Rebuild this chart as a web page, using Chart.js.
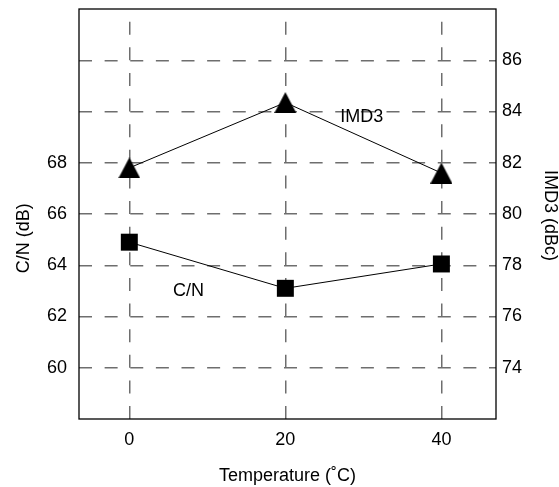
<!DOCTYPE html>
<html><head><meta charset="utf-8">
<script src="https://cdn.jsdelivr.net/npm/chart.js@4.4.1/dist/chart.umd.min.js"></script>
<style>html,body{margin:0;padding:0;background:#fff}#wrap{width:559px;height:487px}</style>
</head><body><div id="wrap"><canvas id="c" width="559" height="487"></canvas></div>
<script>
// ---- data ----
const temperatures = [0, 20, 40];
const cnValues = [64.9, 63.1, 64.05];        // C/N (dB), left axis
const imd3Values = [81.8, 84.35, 81.6];      // IMD3 (dBc), right axis
const xTicks = [0, 20, 40];
const gridTicks = [60, 62, 64, 66, 68, 70, 72];
const cnTickLabels = [60, 62, 64, 66, 68];
const imd3Ticks = [74, 76, 78, 80, 82, 84, 86];

const FONT = 'Liberation Sans, Arial, Helvetica, sans-serif';
const FS = 18;
const CN_MIN = 58, CN_TOP = 74;      // frame spans 58..74 dB
const CN_MAX_VISIBLE = 73.883;       // chart area starts a few px below the frame top
const OFFSET = 14;                   // IMD3 axis = C/N axis + 14

function triangleImage(w, h) {
  const c = document.createElement('canvas');
  c.width = w; c.height = h;
  const g = c.getContext('2d');
  g.fillStyle = '#000';
  g.beginPath();
  g.moveTo(w / 2, 0); g.lineTo(w, h); g.lineTo(0, h); g.closePath();
  g.fill();
  return c;
}

const framePlugin = {
  id: 'frame',
  beforeDatasetsDraw(chart) {
    const {ctx, chartArea: a, scales} = chart;
    const top = scales.y.getPixelForValue(CN_TOP);
    ctx.save();
    ctx.strokeStyle = '#000';
    ctx.lineWidth = 1.3;
    ctx.strokeRect(a.left, top, a.right - a.left, a.bottom - top);
    ctx.restore();
  },
  afterDraw(chart) {
    const {ctx, scales} = chart;
    ctx.save();
    ctx.font = FS + 'px ' + FONT;
    ctx.fillStyle = '#000';
    ctx.textAlign = 'center';
    ctx.textBaseline = 'middle';
    ctx.translate(24, scales.y.getPixelForValue(65.05));
    ctx.rotate(-Math.PI / 2);
    ctx.fillText('C/N (dB)', 0, 0);
    ctx.restore();
  }
};

const labelPlugin = {
  id: 'seriesLabels',
  afterDatasetsDraw(chart) {
    const {ctx, scales} = chart;
    const items = [
      {text: 'IMD3', x: 29.8, y: 69.8},
      {text: 'C/N', x: 7.6, y: 63.0}
    ];
    ctx.save();
    ctx.font = FS + 'px ' + FONT;
    ctx.fillStyle = '#000';
    ctx.textAlign = 'center';
    ctx.textBaseline = 'middle';
    items.forEach(it => {
      ctx.fillText(it.text, scales.x.getPixelForValue(it.x), scales.y.getPixelForValue(it.y));
    });
    ctx.restore();
  }
};

const noPad = s => { s.paddingTop = 0; s.paddingBottom = 0; };
const DASH = [13, 12.625];

new Chart(document.getElementById('c'), {
  type: 'line',
  data: {
    datasets: [
      {
        label: 'IMD3',
        data: temperatures.map((t, i) => ({x: t, y: imd3Values[i]})),
        yAxisID: 'y2',
        borderColor: '#000',
        borderWidth: 1,
        pointStyle: triangleImage(22, 21),
        pointRadius: 11,
        tension: 0
      },
      {
        label: 'C/N',
        data: temperatures.map((t, i) => ({x: t, y: cnValues[i]})),
        yAxisID: 'y',
        borderColor: '#000',
        backgroundColor: '#000',
        borderWidth: 1,
        pointStyle: 'rect',
        pointRadius: 12,
        pointBackgroundColor: '#000',
        pointBorderColor: '#000',
        pointBorderWidth: 0,
        tension: 0
      }
    ]
  },
  options: {
    responsive: false,
    devicePixelRatio: 1,
    animation: false,
    layout: {padding: {top: 6, left: 0, right: 0, bottom: 0}},
    plugins: {legend: {display: false}, tooltip: {enabled: false}},
    scales: {
      x: {
        type: 'linear',
        min: -6.45, max: 47,
        afterBuildTicks: s => { s.ticks = xTicks.map(v => ({value: v})); },
        afterFit: s => { s.height = 68; s.paddingLeft = 0; s.paddingRight = 0; },
        grid: {color: '#6e6e6e', lineWidth: 1.5, drawTicks: false},
        border: {display: false, dash: DASH, dashOffset: 16},
        ticks: {color: '#000', font: {family: FONT, size: FS}, padding: 10, maxRotation: 0},
        title: {display: true, text: 'Temperature (˚C)', color: '#000', font: {family: FONT, size: FS}, padding: {top: 0, bottom: 0}}
      },
      y: {
        position: 'left',
        min: CN_MIN, max: CN_MAX_VISIBLE,
        afterBuildTicks: s => { s.ticks = gridTicks.map(v => ({value: v})); },
        afterFit: s => { s.width = 79; noPad(s); },
        grid: {color: '#6e6e6e', lineWidth: 1.5, drawTicks: false},
        border: {display: false, dash: DASH, dashOffset: 0},
        ticks: {
          color: '#000', font: {family: FONT, size: FS}, padding: 12,
          callback: v => cnTickLabels.includes(v) ? String(v) : ''
        },
        title: {display: false}
      },
      y2: {
        position: 'right',
        min: CN_MIN + OFFSET, max: CN_MAX_VISIBLE + OFFSET,
        afterBuildTicks: s => { s.ticks = imd3Ticks.map(v => ({value: v})); },
        afterFit: s => { s.width = 63; noPad(s); },
        grid: {display: false, drawOnChartArea: false, drawTicks: false},
        border: {display: false},
        ticks: {color: '#000', font: {family: FONT, size: FS}, padding: 6},
        title: {display: true, text: 'IMD3 (dBc)', color: '#000', font: {family: FONT, size: FS}, padding: {top: -2, bottom: 0}}
      }
    }
  },
  plugins: [framePlugin, labelPlugin]
});
</script>
</body></html>
